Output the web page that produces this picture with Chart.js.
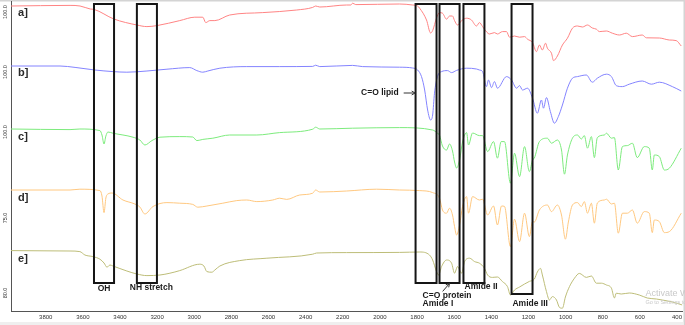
<!DOCTYPE html>
<html><head><meta charset="utf-8">
<script src="https://cdn.jsdelivr.net/npm/chart.js@4/dist/chart.umd.min.js"></script>
<style>html,body{margin:0;padding:0;background:#fff;overflow:hidden}canvas{display:block}</style>
</head><body><canvas id="c" width="685" height="325"></canvas>
<script>
// ---- data: [wavenumber (cm-1), offset transmittance] ----
const sampleNames = ['a]', 'b]', 'c]', 'd]', 'e]'];
const xTicks = [3800,3600,3400,3200,3000,2800,2600,2400,2200,2000,1800,1600,1400,1200,1000,800,600,400];
const yTickValues = [149.5, 119.5, 89.5, 46.5, 9];
const yTickLabels = ['100.0', '100.0', '100.0', '75.0', '80.0'];

const spectrumA = [[3987,152.5],[3669,152.8],[3615,152.5],[3560,151],[3540,150.8],[3433,146],[3309,143],[3255,142.2],[3201,142.7],[3078,145.2],[2997,146.9],[2954,146.9],[2938,144.2],[2916,145.2],[2889,145.2],[2809,148],[2631,149.2],[2448,150.5],[2362,151.8],[2346,152.5],[2324,152],[2179,153],[2157,153],[2147,153.9],[2130,153.2],[1894,153.5],[1824,153],[1797,152.5],[1786,151.4],[1749,145.5],[1727,139],[1716,140.2],[1695,146.5],[1679,149.2],[1663,148.9],[1641,145.9],[1625,147.5],[1609,147.5],[1598,145.2],[1582,143],[1560,145.2],[1533,146.4],[1507,145.5],[1480,142.5],[1464,144.2],[1447,142.2],[1437,140.9],[1410,138.5],[1383,139.2],[1367,138.5],[1340,139.7],[1318,139.7],[1302,136.9],[1275,137.5],[1248,136.9],[1221,137.2],[1205,135.9],[1178,134.2],[1157,129.7],[1141,133],[1125,130.5],[1108,133.9],[1098,131.4],[1076,128.9],[1065,125.2],[1044,127.5],[1017,133],[990,136.4],[963,141.4],[936,142.5],[909,142],[882,143],[856,141.5],[834,140.9],[818,139.7],[780,140],[748,138.9],[710,138],[673,138.9],[640,137.2],[587,138],[565,136.6],[495,136.5],[441,135.5],[404,135.2],[377,132.5]];

const spectrumB = [[3987,122.5],[3723,122.5],[3642,121.8],[3535,120.5],[3438,119.7],[3363,119.4],[3255,120],[3147,120.9],[3024,121.7],[2986,120.2],[2954,119.4],[2927,120],[2862,121.4],[2717,122.2],[2540,122.2],[2362,122.3],[2346,122.9],[2324,122.2],[2147,122.8],[2093,122.2],[1894,121.9],[1824,121.5],[1797,120.5],[1776,117.2],[1759,110.5],[1743,100.5],[1727,95.5],[1716,98],[1706,108.9],[1690,117.2],[1668,119.7],[1636,120.2],[1614,119.2],[1587,120.3],[1533,121.4],[1480,121],[1464,120.5],[1447,119.7],[1426,112.2],[1415,115.5],[1399,111.7],[1383,114.7],[1367,111.4],[1318,117.2],[1291,115.5],[1264,111.4],[1248,112.7],[1232,110.5],[1205,111.4],[1178,106.4],[1152,98.9],[1130,105.5],[1119,101.4],[1103,106.7],[1082,99.7],[1060,93.9],[1039,97.2],[1017,103],[990,111.4],[963,116.4],[936,117.2],[888,118],[856,114.4],[829,116.4],[780,118.4],[753,117.2],[727,112.7],[694,112.2],[657,113.4],[587,115],[538,113.4],[495,114.4],[425,112.2],[377,110]];

const spectrumC = [[3987,91],[3669,90.7],[3616,91],[3508,90.2],[3497,88],[3486,83.5],[3476,87.5],[3465,89.5],[3438,88.9],[3330,86.9],[3293,85.5],[3266,83],[3228,85.2],[3185,86.9],[3078,87.2],[3008,87],[2986,85.2],[2954,85.8],[2900,86.4],[2809,88],[2663,88],[2540,89.2],[2362,90.9],[2346,91.9],[2324,91],[2147,91.4],[1894,91.7],[1716,90.5],[1690,88.9],[1679,87.9],[1663,82.5],[1641,80.5],[1625,83.5],[1609,80],[1598,74.5],[1587,71.5],[1571,75.5],[1555,84.5],[1533,89.2],[1523,83],[1501,89],[1464,87.7],[1447,87.7],[1420,79.7],[1388,84.7],[1367,76.4],[1347,84.7],[1329,84.7],[1297,63.9],[1275,78.9],[1248,67.2],[1221,82.2],[1195,69.7],[1178,75.5],[1168,76.5],[1141,84.7],[1098,86.4],[1076,83.9],[1044,85.5],[1022,80.5],[1006,68.4],[990,78],[963,86.4],[936,88],[915,86],[899,87.7],[882,81.4],[861,87.2],[845,76.7],[829,86.7],[791,88],[780,88.9],[753,86.4],[737,86.7],[716,70.5],[694,82.2],[667,82.7],[640,83.9],[614,76.7],[576,82.2],[549,81.4],[533,70.5],[522,78],[495,77.2],[468,70.5],[441,71.4],[377,81.4]];

const spectrumD = [[3987,60.5],[3669,60.5],[3616,60.9],[3508,60.2],[3497,57.5],[3486,49.2],[3476,56.5],[3465,58.5],[3443,59],[3384,55.5],[3320,53.5],[3293,52],[3266,48.5],[3223,52.2],[3147,54.2],[3078,53.9],[3008,53.3],[2981,51.9],[2932,52.5],[2846,53.9],[2771,55.2],[2717,55.5],[2663,54.7],[2577,55.5],[2540,56.4],[2502,55.8],[2432,58],[2362,58.9],[2346,60.5],[2324,59.5],[2179,60],[2018,60.9],[1894,60.5],[1786,60.2],[1716,59.2],[1679,56.4],[1663,50.5],[1641,48.9],[1625,51.4],[1609,48],[1598,42.2],[1587,38],[1571,43],[1555,52.2],[1533,57.2],[1523,48.9],[1501,57.2],[1464,55.5],[1447,55.9],[1420,48],[1388,52.5],[1367,43],[1345,52.5],[1329,52.3],[1297,32.2],[1275,45.9],[1248,34.7],[1221,48.9],[1195,37.2],[1178,44.7],[1168,44.5],[1141,50.5],[1098,53],[1076,49.7],[1044,53],[1022,48],[1001,35.9],[985,44.5],[963,53],[936,54.2],[915,52.2],[899,54.7],[882,48.9],[861,53.9],[845,43.9],[829,54],[791,55.5],[780,55.9],[753,53.5],[737,53.9],[716,38.9],[694,48.9],[667,48.9],[640,50.5],[614,43.9],[576,49.7],[549,48.9],[533,39.2],[522,45.5],[495,44.7],[468,39.2],[441,39.7],[377,48.9]];

const spectrumE = [[3987,30.2],[3669,30],[3616,29.7],[3589,28],[3546,27.2],[3508,25.9],[3486,24],[3470,21.9],[3454,23],[3438,22.5],[3363,20],[3309,18.5],[3255,17.7],[3185,18],[3131,18.9],[3078,20.2],[2970,23.4],[2948,22.5],[2932,19.7],[2905,19.4],[2889,20.5],[2862,22.5],[2755,25.2],[2609,26.4],[2362,28.4],[2341,29],[2179,29.2],[1894,29.3],[1786,29.5],[1733,28],[1716,25.5],[1695,19.7],[1684,18],[1668,22.2],[1641,25.5],[1614,23.9],[1598,18.9],[1582,22.2],[1560,18.9],[1544,24.7],[1517,26.4],[1490,24.7],[1464,23.9],[1437,21.4],[1420,18],[1394,16.8],[1367,17],[1340,14.7],[1313,12.2],[1297,8],[1275,10.5],[1248,12],[1221,13.5],[1195,14.8],[1168,16],[1152,19.5],[1135,21.3],[1125,18],[1103,9.7],[1087,5.5],[1071,7.2],[1049,5.5],[1033,1.8],[1017,1.4],[1001,7],[979,12.2],[952,16.4],[926,18.8],[888,16.8],[861,17.5],[834,13.9],[807,13.9],[780,13],[753,11.4],[737,6.5],[727,8.9],[700,8.5],[657,9],[603,8],[560,6.5],[511,6],[479,5.5],[425,4.5],[371,3]];

// band regions (cm-1) marked with boxes
const bandFrom = [3540, 3309, 1808, 1679, 1550, 1291];
const bandTo   = [3432, 3201, 1695, 1571, 1437, 1178];
const bandLow  = [14, 14, 14, 14, 14, 8.5];
const bandHigh = 153.5;

const spectra = [spectrumA, spectrumB, spectrumC, spectrumD, spectrumE];
const colors = ['#ff8484', '#8484ff', '#7deb7d', '#ffc880', '#bdbd78'];

const annot = {
  id: 'annot',
  beforeDraw(chart) {
    const c = chart.ctx;
    c.save();
    c.fillStyle = '#fff'; c.fillRect(0, 0, 685, 325);
    c.fillStyle = '#d4d4d4'; c.fillRect(0, 0, 685, 1.5); c.fillRect(683.5, 0, 1.5, 325);
    c.fillStyle = '#efefef'; c.fillRect(0, 322, 683.5, 3);
    c.restore();
  },
  afterDatasetsDraw(chart) {
    const c = chart.ctx, x = chart.scales.x, y = chart.scales.y;
    const px = v => x.getPixelForValue(v), py = v => y.getPixelForValue(v);
    c.save();
    // band boxes
    c.strokeStyle = '#151515'; c.lineWidth = 2;
    bandFrom.forEach((f, i) => {
      const x0 = px(f), x1 = px(bandTo[i]), y0 = py(bandHigh), y1 = py(bandLow[i]);
      c.strokeRect(x0, y0, x1 - x0, y1 - y0);
    });
    // y labels (rotated)
    c.fillStyle = '#333'; c.font = '5.5px "Liberation Sans"'; c.textAlign = 'center'; c.textBaseline = 'middle';
    yTickValues.forEach((v, i) => {
      c.save(); c.translate(5, py(v)); c.rotate(-Math.PI / 2); c.fillText(yTickLabels[i], 0, 0); c.restore();
    });
    // sample labels
    const labelV = [149, 119, 87, 56.5, 26];
    c.fillStyle = '#2a2a2a'; c.font = 'bold 11px "Liberation Sans"'; c.textAlign = 'left';
    sampleNames.forEach((n, i) => c.fillText(n, px(3949), py(labelV[i])));
    // band annotations
    c.fillStyle = '#1a1a1a'; c.font = 'bold 8.5px "Liberation Sans"';
    c.textAlign = 'center';
    c.fillText('OH', px(3486), py(11));
    c.fillText('NH stretch', px(3231), py(11.5));
    c.textAlign = 'right';
    c.fillText('C=O lipid', px(1899), py(109));
    c.textAlign = 'left';
    c.fillText('C=O protein', px(1770), py(7.5));
    c.fillText('Amide I', px(1770), py(3.5));
    c.fillText('Amide II', px(1544), py(12));
    c.fillText('Amide III', px(1286), py(3.8));
    // arrows
    const arrow = (x0, y0, x1, y1) => {
      c.strokeStyle = '#333'; c.lineWidth = 1;
      c.beginPath(); c.moveTo(x0, y0); c.lineTo(x1, y1); c.stroke();
      const a = Math.atan2(y1 - y0, x1 - x0), L = 4;
      c.beginPath();
      c.moveTo(x1 - L * Math.cos(a - 0.5), y1 - L * Math.sin(a - 0.5));
      c.lineTo(x1, y1);
      c.lineTo(x1 - L * Math.cos(a + 0.5), y1 - L * Math.sin(a + 0.5));
      c.stroke();
    };
    arrow(px(1872), py(109), px(1810), py(109));
    arrow(px(1662), py(9.8), px(1625), py(13.8));
    // watermark
    c.fillStyle = '#c9c9c9'; c.font = '9px "Liberation Sans"'; c.textAlign = 'left';
    c.fillText('Activate Windows', px(570), py(8.5));
    c.font = '5.5px "Liberation Sans"';
    c.fillText('Go to Settings to activate Windows.', px(570), py(4.5));
    c.restore();
  }
};

const datasets = spectra.map((s, i) => ({
  label: sampleNames[i],
  data: s.map(p => ({ x: p[0], y: p[1] })),
  borderColor: colors[i],
  borderWidth: 1,
  pointRadius: 0,
  fill: false,
  cubicInterpolationMode: 'monotone'
}));

new Chart(document.getElementById('c'), {
  type: 'line',
  data: { datasets },
  options: {
    responsive: false,
    animation: false,
    devicePixelRatio: 1,
    layout: { padding: { top: 1, right: 2, left: 0, bottom: 0 } },
    plugins: { legend: { display: false }, tooltip: { enabled: false } },
    scales: {
      x: {
        type: 'linear', reverse: true, min: 371, max: 3987,
        afterBuildTicks: s => { s.ticks = xTicks.map(v => ({ value: v })); },
        afterFit: s => { s.height = 14; },
        ticks: { callback: v => String(v), font: { family: 'Liberation Sans', size: 6 }, color: '#333', padding: 3, maxRotation: 0, autoSkip: false },
        grid: { display: false, drawTicks: false },
        border: { display: true, color: '#555', width: 1 }
      },
      y: {
        min: 0, max: 155,
        afterFit: s => { s.width = 11; },
        ticks: { display: false },
        grid: { display: false, drawTicks: false },
        border: { display: true, color: '#555', width: 1 }
      }
    }
  },
  plugins: [annot]
});
</script></body></html>
